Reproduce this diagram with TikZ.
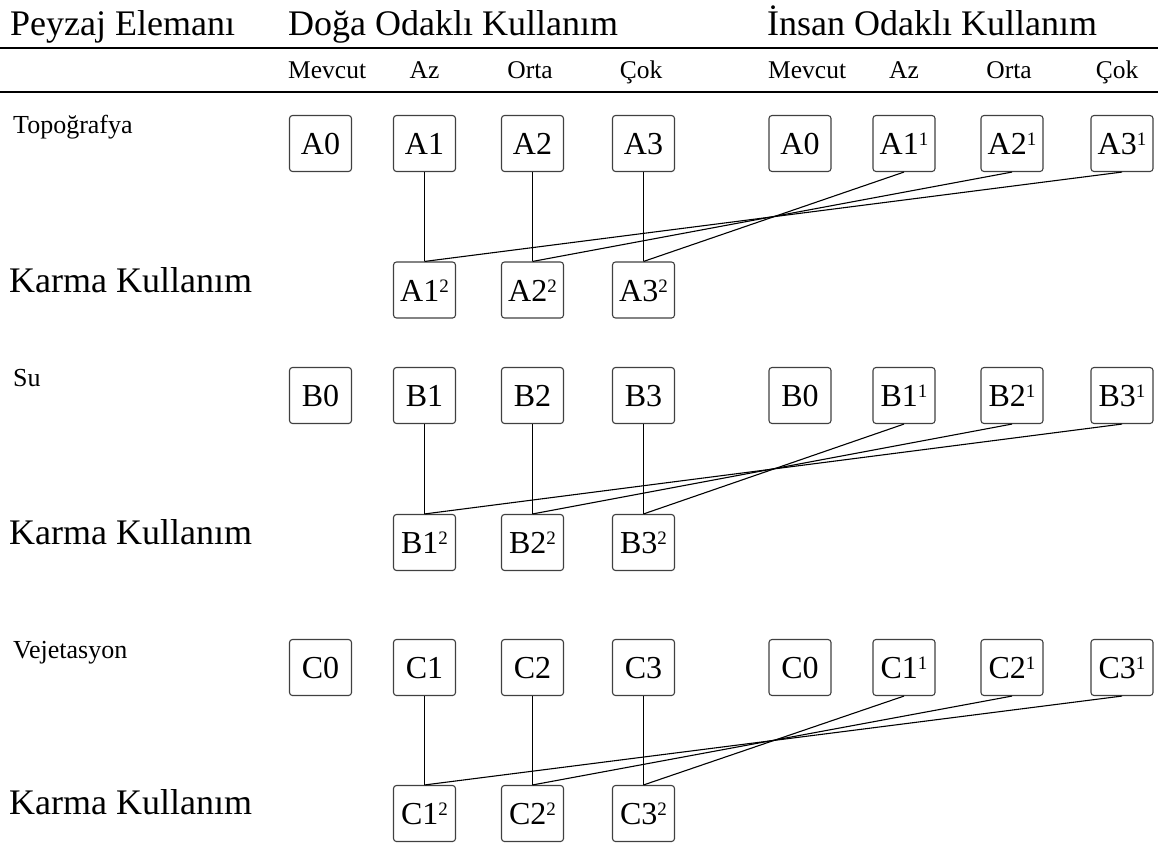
\documentclass[tikz,border=0pt]{standalone}
\usepackage{fontspec}
\setmainfont{Liberation Serif}
\newcommand{\supnum}[1]{\raisebox{9pt}{\fontsize{19}{19}\selectfont #1}}
\begin{document}
\begin{tikzpicture}[x=1pt,y=-1pt,
  box/.style={draw=black!75, line width=1.1pt, rounded corners=3pt, minimum width=62pt, minimum height=56pt, inner sep=0pt, text height=22pt, text depth=0pt, font=\fontsize{32}{32}\selectfont},
  hdr/.style={anchor=base west, inner sep=0pt, font=\fontsize{36}{36}\selectfont},
  sub/.style={anchor=base, inner sep=0pt, font=\fontsize{25.5}{25.5}\selectfont},
  rowlab/.style={anchor=base west, inner sep=0pt, font=\fontsize{26}{26}\selectfont},
  karma/.style={anchor=base west, inner sep=0pt, font=\fontsize{36}{36}\selectfont},
  rule/.style={line width=2.2pt},
  link/.style={line width=1.1pt}]
\useasboundingbox (0,0) rectangle (1158,846);
% header
\node[hdr] (h0) at (10,35) {Peyzaj Elemanı};
\node[hdr] (h1) at (288,35) {Doğa Odaklı Kullanım};
\node[hdr] (h2) at (767,35) {İnsan Odaklı Kullanım};
\coordinate (r1a) at (0,48);
\coordinate (r1b) at (1158,48);
\coordinate (r2a) at (0,92);
\coordinate (r2b) at (1158,92);
\draw[rule] (r1a) -- (r1b);
\draw[rule] (r2a) -- (r2b);
% sub headers
\node[sub, anchor=base west] (s0) at (288,78) {Mevcut};
\node[sub] (s1) at (424.5,78) {Az};
\node[sub] (s2) at (530,78) {Orta};
\node[sub] (s3) at (641,78) {Çok};
\node[sub, anchor=base west] (s4) at (768,78) {Mevcut};
\node[sub] (s5) at (904,78) {Az};
\node[sub] (s6) at (1009,78) {Orta};
\node[sub] (s7) at (1117,78) {Çok};
% row labels
\node[rowlab] (lA) at (13,133) {Topoğrafya};
\node[rowlab] (lB) at (13,386) {Su};
\node[rowlab] (lC) at (13,658) {Vejetasyon};
\node[karma] (kA) at (9,292) {Karma Kullanım};
\node[karma] (kB) at (9,544) {Karma Kullanım};
\node[karma] (kC) at (9,814) {Karma Kullanım};
% boxes
\foreach \r/\yt/\yk in {A/143.5/290, B/395.5/542.5, C/667.5/813.5}{
  \node[box] (\r0) at (320.5,\yt) {\r0};
  \node[box] (\r1) at (424.5,\yt) {\r1};
  \node[box] (\r2) at (532.5,\yt) {\r2};
  \node[box] (\r3) at (643.5,\yt) {\r3};
  \node[box] (\r0h) at (800,\yt) {\r0};
  \node[box] (\r1h) at (904,\yt) {\r1\supnum{1}};
  \node[box] (\r2h) at (1012,\yt) {\r2\supnum{1}};
  \node[box] (\r3h) at (1122,\yt) {\r3\supnum{1}};
  \node[box] (\r1m) at (424.5,\yk) {\r1\supnum{2}};
  \node[box] (\r2m) at (532.5,\yk) {\r2\supnum{2}};
  \node[box] (\r3m) at (643.5,\yk) {\r3\supnum{2}};
  \draw[link] (\r1.south) -- (\r1m.north);
  \draw[link] (\r2.south) -- (\r2m.north);
  \draw[link] (\r3.south) -- (\r3m.north);
  \draw[link] (\r1h.south) -- (\r3m.north);
  \draw[link] (\r2h.south) -- (\r2m.north);
  \draw[link] (\r3h.south) -- (\r1m.north);
}
\end{tikzpicture}
\end{document}
